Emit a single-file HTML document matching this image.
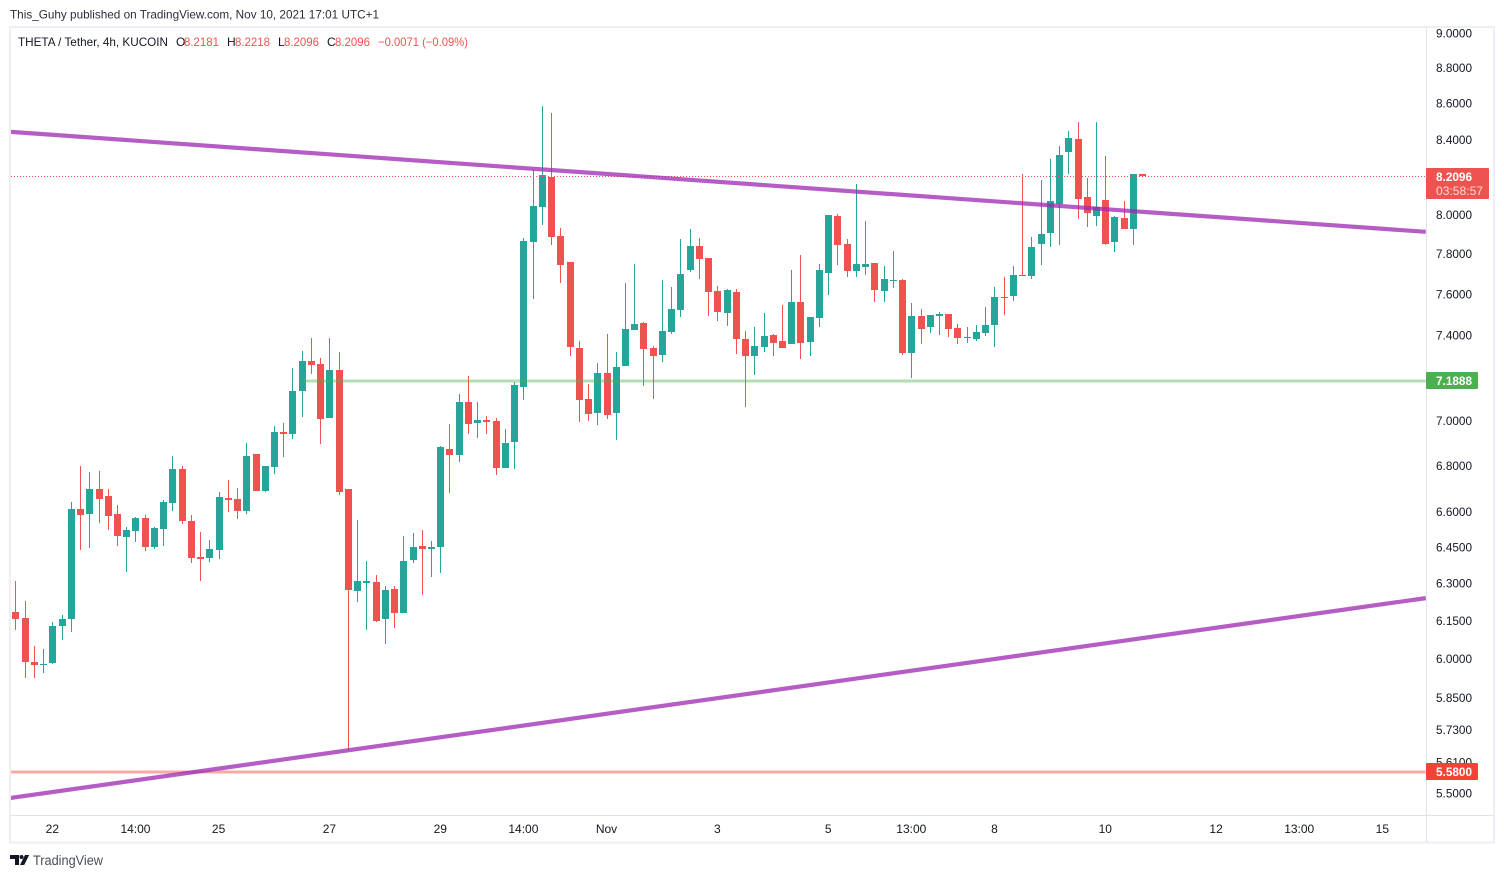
<!DOCTYPE html>
<html lang="en">
<head>
<meta charset="utf-8">
<title>THETA / Tether chart</title>
<style>
html,body{margin:0;padding:0;background:#fff;width:1504px;height:878px;overflow:hidden}
svg{display:block;font-family:"Liberation Sans",sans-serif}
text{font-size:12px;fill:#131722}
</style>
</head>
<body>
<svg id="chart" xmlns="http://www.w3.org/2000/svg" width="1504" height="878" viewBox="0 0 1504 878">
  <defs>
    <clipPath id="plot-clip"><rect x="11" y="28" width="1415" height="787"/></clipPath>
  </defs>
  <text x="10" y="18.5" textLength="369" lengthAdjust="spacingAndGlyphs" style="fill:#2a2e39">This_Guhy published on TradingView.com, Nov 10, 2021 17:01 UTC+1</text>

  <g id="plot" clip-path="url(#plot-clip)">
    <g id="candles"></g>
    <g id="overlays"></g>
  </g>

  <rect x="10" y="27" width="1484" height="815.5" fill="none" stroke="#eeeff4" stroke-width="2"/>
  <rect x="1426" y="28" width="1" height="814" fill="#e0e3eb"/>
  <rect x="11" y="815" width="1482" height="1" fill="#e0e3eb"/>

  <g id="price-axis"></g>
  <g id="time-axis"></g>
  <g id="price-tags"></g>

  <g>
    <text x="18" y="46" textLength="150" lengthAdjust="spacingAndGlyphs" style="fill:#131722">THETA / Tether, 4h, KUCOIN</text>
    <text x="176" y="46">O</text>
    <text x="184" y="46" textLength="35" lengthAdjust="spacingAndGlyphs" style="fill:#ef5350">8.2181</text>
    <text x="227" y="46">H</text>
    <text x="235" y="46" textLength="35" lengthAdjust="spacingAndGlyphs" style="fill:#ef5350">8.2218</text>
    <text x="278" y="46">L</text>
    <text x="284" y="46" textLength="35" lengthAdjust="spacingAndGlyphs" style="fill:#ef5350">8.2096</text>
    <text x="327" y="46">C</text>
    <text x="335" y="46" textLength="35" lengthAdjust="spacingAndGlyphs" style="fill:#ef5350">8.2096</text>
    <text x="378" y="46" textLength="90" lengthAdjust="spacingAndGlyphs" style="fill:#ef5350">−0.0071 (−0.09%)</text>
  </g>

  <g>
    <path d="M10 855h9v10h-4v-6h-5z M25 855h4.2l-5 10h-4.2z" fill="#131722"/>
    <circle cx="21.5" cy="857" r="2" fill="#131722"/>
    <text x="33" y="865" textLength="70" lengthAdjust="spacingAndGlyphs" style="font-size:13.5px;fill:#4a4e59">TradingView</text>
  </g>
</svg>

<script>
const opens = [
6.188,6.165,5.992,5.980,5.988,6.133,6.161,6.616,6.595,6.703,
6.672,6.595,6.498,6.523,6.578,6.455,6.531,6.642,6.790,6.565,
6.413,6.409,6.442,6.663,6.659,6.608,6.856,6.694,6.799,6.955,
6.946,7.142,7.282,7.268,7.018,7.240,6.703,6.273,6.306,6.310,
6.161,6.281,6.184,6.401,6.459,6.446,6.455,6.878,6.851,7.090,
6.996,7.009,7.005,6.795,6.910,7.161,7.866,8.046,8.205,7.896,
7.764,7.343,7.104,7.041,7.226,7.041,7.259,7.430,7.464,7.343,
7.310,7.421,7.527,7.724,7.845,7.784,7.620,7.512,7.615,7.387,
7.306,7.348,7.406,7.377,7.363,7.565,7.372,7.488,7.709,8.000,
7.855,7.719,7.739,7.759,7.620,7.670,7.675,7.320,7.498,7.445,
7.498,7.507,7.440,7.392,7.387,7.416,7.454,7.590,7.595,7.699,
7.694,7.855,7.912,8.062,8.338,8.409,8.098,8.000,8.082,7.866,
7.989,7.933,8.2181];
const highs = [
6.314,6.232,6.054,6.042,6.149,6.177,6.646,6.803,6.777,6.781,
6.703,6.633,6.540,6.582,6.591,6.540,6.654,6.847,6.803,6.591,
6.519,6.485,6.689,6.742,6.707,6.905,6.856,6.803,6.982,6.996,
7.249,7.329,7.392,7.296,7.392,7.324,6.703,6.569,6.397,6.339,
6.294,6.294,6.502,6.515,6.527,6.480,6.892,6.991,7.128,7.212,
7.090,7.027,7.018,6.968,7.184,7.886,8.242,8.590,8.552,7.938,
7.764,7.377,7.175,7.273,7.411,7.324,7.660,7.754,7.469,7.353,
7.675,7.640,7.881,7.933,7.886,7.784,7.645,7.630,7.630,7.425,
7.445,7.512,7.411,7.551,7.724,7.799,7.493,7.754,8.005,8.010,
7.881,8.167,7.974,7.759,7.744,7.819,7.680,7.560,7.531,7.503,
7.517,7.507,7.459,7.445,7.454,7.541,7.640,7.690,7.744,8.221,
7.891,8.189,8.300,8.370,8.453,8.503,8.200,8.503,8.316,8.000,
8.077,8.221,8.2218];
const lows = [
6.117,5.930,5.930,5.949,5.984,6.078,6.109,6.442,6.451,6.557,
6.527,6.459,6.351,6.476,6.438,6.446,6.459,6.608,6.552,6.389,
6.314,6.393,6.405,6.603,6.574,6.595,6.694,6.689,6.768,6.843,
6.923,7.023,7.221,6.901,7.018,6.676,5.659,6.228,6.117,6.149,
6.062,6.125,6.184,6.389,6.257,6.331,6.347,6.685,6.821,6.946,
6.928,6.946,6.764,6.795,6.790,7.100,7.579,7.953,7.850,7.660,
7.306,7.000,7.005,6.987,7.014,6.919,7.259,7.430,7.165,7.104,
7.278,7.411,7.493,7.714,7.680,7.498,7.474,7.449,7.315,7.068,
7.217,7.324,7.306,7.343,7.363,7.292,7.306,7.445,7.600,7.749,
7.690,7.690,7.699,7.565,7.565,7.635,7.310,7.203,7.363,7.416,
7.406,7.396,7.363,7.367,7.377,7.401,7.348,7.503,7.570,7.694,
7.680,7.749,7.840,7.850,8.221,7.984,7.943,7.948,7.850,7.814,
7.933,7.850,8.2096];
const closes = [
6.161,5.992,5.980,5.984,6.133,6.161,6.616,6.591,6.703,6.659,
6.586,6.502,6.527,6.578,6.455,6.536,6.646,6.790,6.565,6.409,
6.405,6.446,6.668,6.654,6.608,6.847,6.694,6.803,6.955,6.946,
7.142,7.282,7.263,7.014,7.240,6.689,6.277,6.314,6.314,6.153,
6.277,6.184,6.397,6.455,6.446,6.455,6.887,6.851,7.090,6.991,
7.009,7.000,6.795,6.905,7.170,7.871,8.051,8.215,7.891,7.749,
7.348,7.100,7.036,7.226,7.032,7.254,7.435,7.459,7.339,7.306,
7.425,7.531,7.704,7.845,7.779,7.615,7.517,7.625,7.387,7.306,
7.353,7.401,7.367,7.343,7.565,7.367,7.493,7.724,8.005,7.850,
7.719,7.754,7.754,7.625,7.680,7.675,7.320,7.498,7.435,7.503,
7.507,7.435,7.392,7.396,7.421,7.454,7.590,7.585,7.699,7.694,
7.840,7.907,8.077,8.322,8.415,8.088,8.015,8.046,7.855,7.994,
7.933,8.221,8.2096];

const priceTicks = [9,8.8,8.6,8.4,8,7.8,7.6,7.4,7,6.8,6.6,6.45,6.3,6.15,6,5.85,5.73,5.61,5.5];
const timeTickBars = [4,13,22,34,46,55,64,76,88,97,106,118,130,139,148];
const timeTickLabels = ["22","14:00","25","27","29","14:00","Nov","3","5","13:00","8","10","12","13:00","15"];

const trendBars = [-0.62,152.7];
const upperTrendPrices = [8.4475,7.917];
const lowerTrendPrices = [5.485,6.244];
const supportPrice = 7.1888;
const supportStartBar = 31;
const floorPrice = 5.58;
const lastPrice = 8.2096;
const lastCountdown = "03:58:57";

const NS = "http://www.w3.org/2000/svg";
const UP = "#26a69a";
const DOWN = "#ef5350";

function X(i){ return 15.4 + 9.236 * i; }
function Y(p){ return 34 + 1543 * Math.log(9 / p); }
function make(tag, attrs, parent){
  const el = document.createElementNS(NS, tag);
  for (const k in attrs) el.setAttribute(k, attrs[k]);
  parent.appendChild(el);
  return el;
}

const candlesG = document.getElementById("candles");
opens.forEach(function(o, i){
  const c = closes[i];
  const color = c >= o ? UP : DOWN;
  const col = Math.round(X(i));
  const g = make("g", {}, candlesG);
  
  
  const wickTop = Math.round(Y(highs[i]));
  const wickBot = Math.round(Y(lows[i]));
  const wick = make("rect", {x: col, y: wickTop, width: 1, height: Math.max(1, wickBot - wickTop), fill: color, "shape-rendering": "crispEdges"}, g);
  
  
  const top = Math.round(Y(Math.max(o, c)));
  const bot = Math.round(Y(Math.min(o, c)));
  const body = make("rect", {x: col - 3, y: top, width: 7, height: Math.max(1, bot - top), fill: color, "shape-rendering": "crispEdges"}, g);
  
  
});

const overlays = document.getElementById("overlays");
const xEnd = X(trendBars[1]);
const xStart = X(trendBars[0]);

const lastRow = Math.floor(Y(lastPrice)) + 1;
const lastLine = make("line", {x1: 11, x2: 1426, y1: lastRow + 0.5, y2: lastRow + 0.5, stroke: DOWN, "stroke-width": 1, "stroke-dasharray": "1 2", "shape-rendering": "crispEdges"}, overlays);



const supportLine = make("rect", {x: X(supportStartBar), y: Math.round(Y(supportPrice)) - 1.5, width: xEnd - X(supportStartBar), height: 3, fill: "#4caf50", "fill-opacity": 0.42}, overlays);



const floorLine = make("rect", {x: xStart, y: Math.round(Y(floorPrice)) - 1.5, width: xEnd - xStart, height: 3, fill: "#f44336", "fill-opacity": 0.45}, overlays);



const upperTrend = make("line", {x1: X(trendBars[0]), x2: X(trendBars[1]), y1: Y(upperTrendPrices[0]), y2: Y(upperTrendPrices[1]), stroke: "#9c27b0", "stroke-opacity": 0.75, "stroke-width": 4.2}, overlays);



const lowerTrend = make("line", {x1: X(trendBars[0]), x2: X(trendBars[1]), y1: Y(lowerTrendPrices[0]), y2: Y(lowerTrendPrices[1]), stroke: "#9c27b0", "stroke-opacity": 0.75, "stroke-width": 4.2}, overlays);



const priceAxis = document.getElementById("price-axis");
priceTicks.forEach(function(p){
  const t = make("text", {x: 1436, y: Y(p) + 3.4}, priceAxis);
  
  
  t.setAttribute('textLength', '36');
  t.setAttribute('lengthAdjust', 'spacingAndGlyphs');
  t.textContent = p.toFixed(4);
});

const timeAxis = document.getElementById("time-axis");
timeTickBars.forEach(function(b, i){
  const t = make("text", {x: X(b), y: 833, "text-anchor": "middle"}, timeAxis);
  
  
  t.textContent = timeTickLabels[i];
});

const tags = document.getElementById("price-tags");

const lastTag = make("rect", {x: 1426, y: lastRow - 8, width: 63, height: 31, rx: 1, fill: DOWN}, tags);


const lastTagText = make("text", {x: 1436, y: lastRow + 5, textLength: 36, lengthAdjust: "spacingAndGlyphs", style: "fill:#fff;font-weight:bold"}, tags);


lastTagText.textContent = lastPrice.toFixed(4);
const countdown = make("text", {x: 1436, y: lastRow + 19, textLength: 47, lengthAdjust: "spacingAndGlyphs", style: "fill:rgba(255,255,255,.78)"}, tags);


countdown.textContent = lastCountdown;

const supportTagY = Math.round(Y(supportPrice));
const supportTag = make("rect", {x: 1426, y: supportTagY - 9, width: 52, height: 17, rx: 1, fill: "#4caf50"}, tags);


const supportText = make("text", {x: 1436, y: supportTagY + 4, textLength: 36, lengthAdjust: "spacingAndGlyphs", style: "fill:#fff;font-weight:bold"}, tags);


supportText.textContent = supportPrice.toFixed(4);

const floorTagY = Math.round(Y(floorPrice));
const floorTag = make("rect", {x: 1426, y: floorTagY - 9, width: 52, height: 17, rx: 1, fill: "#f44336"}, tags);


const floorText = make("text", {x: 1436, y: floorTagY + 4, textLength: 36, lengthAdjust: "spacingAndGlyphs", style: "fill:#fff;font-weight:bold"}, tags);


floorText.textContent = floorPrice.toFixed(4);
</script>
</body>
</html>
